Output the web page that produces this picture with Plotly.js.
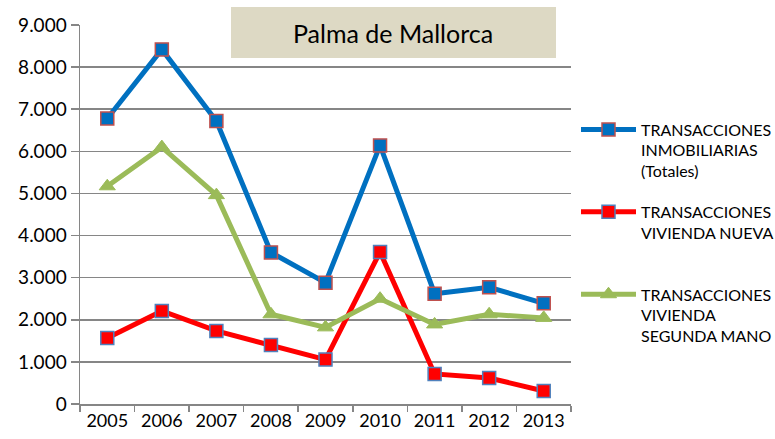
<!DOCTYPE html>
<html>
<head>
<meta charset="utf-8">
<script src="https://cdn.plot.ly/plotly-3.0.1.min.js"></script>
<style>html,body{margin:0;padding:0;background:#fff;}#chart{width:775px;height:439px;}</style>
</head>
<body>
<div id="chart"></div>
<script>
const years = ['2005','2006','2007','2008','2009','2010','2011','2012','2013'];
const totales = [6780, 8420, 6720, 3600, 2880, 6140, 2620, 2770, 2390];
const nueva = [1570, 2210, 1735, 1400, 1055, 3610, 713, 618, 310];
const segunda = [5170, 6100, 4960, 2130, 1820, 2500, 1890, 2130, 2045];
const names = [
  'TRANSACCIONES<br>INMOBILIARIAS<br>(Totales)',
  'TRANSACCIONES<br>VIVIENDA NUEVA<br>&nbsp;',
  'TRANSACCIONES<br>VIVIENDA<br>SEGUNDA MANO'
];
const chartTitle = 'Palma de Mallorca';
const yTicks = [0,1000,2000,3000,4000,5000,6000,7000,8000,9000];

const FONT = 'Lato, "Open Sans", sans-serif';

const traces = [
  {x: years, y: totales, name: names[0], legendgroup: 'g1', type: 'scatter', mode: 'lines+markers',
   line: {color: '#0070C0', width: 5},
   marker: {symbol: 'square', size: 13, color: '#0070C0', line: {color: '#C0504D', width: 1.5}}},
  {x: years, y: nueva, name: names[1], legendgroup: 'g2', type: 'scatter', mode: 'lines+markers',
   line: {color: '#FF0000', width: 5},
   marker: {symbol: 'square', size: 13, color: '#FF0000', line: {color: '#4F81BD', width: 1.5}}},
  {x: years, y: segunda, name: names[2], legendgroup: 'g3', type: 'scatter', mode: 'lines+markers',
   line: {color: '#9BBB59', width: 5},
   marker: {symbol: 'triangle-up', size: 14, color: '#9BBB59', line: {color: '#9BBB59', width: 1}}}
];

const layout = {
  width: 775, height: 439,
  margin: {l: 80, r: 204, t: 25, b: 35, pad: 0, autoexpand: false},
  paper_bgcolor: '#ffffff', plot_bgcolor: '#ffffff',
  separators: ',.',
  font: {family: FONT, color: '#000000', size: 18},
  showlegend: true,
  legend: {x: (576-80)/491, xanchor: 'left', y: 0.769, yanchor: 'top',
    font: {family: FONT, size: 16, color: '#000'}, valign: 'top',
    itemwidth: 55, tracegroupgap: 17, bgcolor: 'rgba(0,0,0,0)'},
  xaxis: {type: 'category', range: [-0.5, 8.5], showgrid: false, zeroline: false,
    showline: true, linecolor: '#868686', linewidth: 1.5,
    ticks: 'outside', tickson: 'boundaries', ticklen: 6, tickcolor: '#868686', tickwidth: 1.5,
    tickfont: {family: FONT, size: 18, color: '#000'}, fixedrange: true},
  yaxis: {range: [0, 9000], tickvals: yTicks, tickformat: ',d',
    showgrid: true, gridcolor: '#868686', gridwidth: 1.5, zeroline: false,
    showline: true, linecolor: '#868686', linewidth: 1.5,
    ticks: 'outside', ticklen: 8, tickcolor: '#868686', tickwidth: 1.5,
    tickfont: {family: FONT, size: 19, color: '#000'}, fixedrange: true},
  shapes: [
    {type: 'rect', xref: 'paper', yref: 'paper', layer: 'above',
     x0: (231-80)/491, x1: (556-80)/491, y0: (404-58)/379, y1: (404-7)/379,
     fillcolor: '#DDD9C4', line: {width: 0}}
  ],
  annotations: [
    {xref: 'paper', yref: 'paper', x: (393-80)/491, y: (404-33)/379,
     xanchor: 'center', yanchor: 'middle', showarrow: false, text: chartTitle,
     font: {family: FONT, size: 25, color: '#000'}}
  ]
};

Plotly.newPlot('chart', traces, layout, {displayModeBar: false, staticPlot: true});
</script>
</body>
</html>
